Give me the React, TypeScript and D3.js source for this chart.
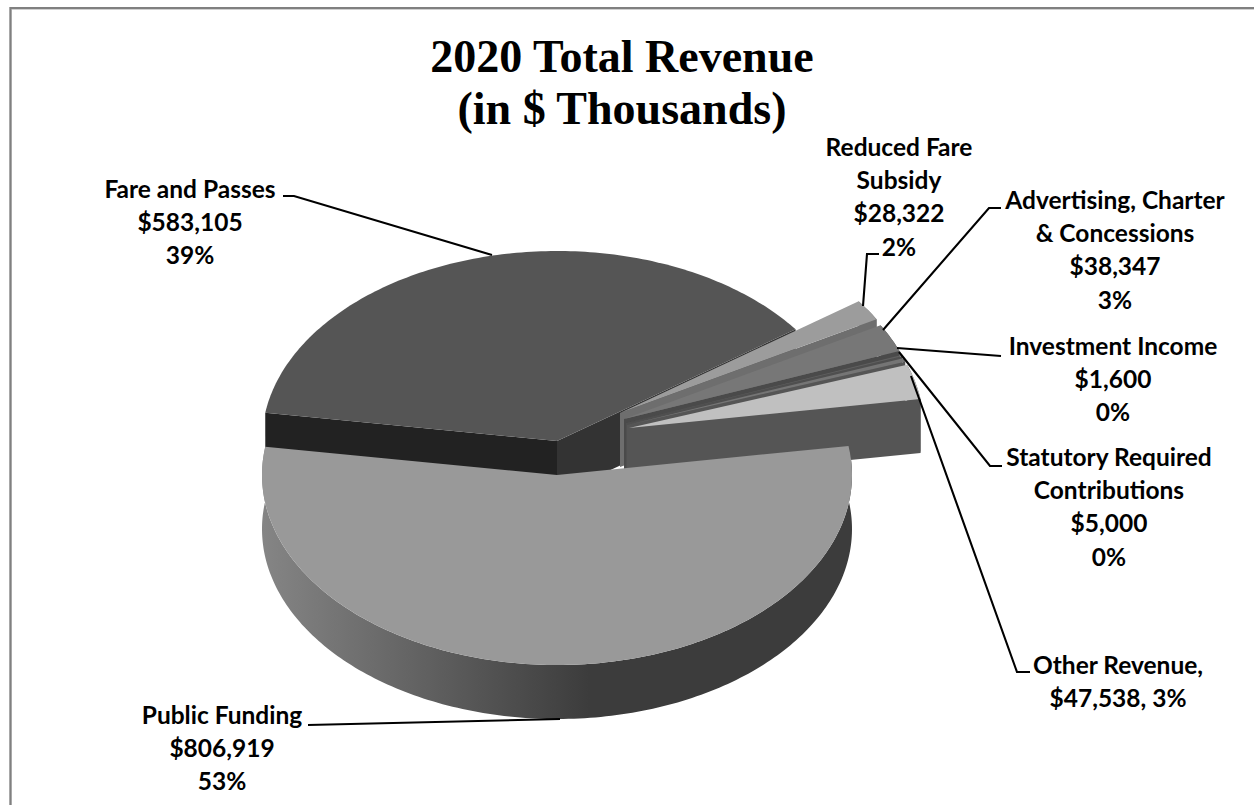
import React from "react";
import * as d3 from "d3";

const categories = ["Fare and Passes", "Reduced Fare Subsidy", "Advertising, Charter & Concessions", "Investment Income", "Statutory Required Contributions", "Other Revenue", "Public Funding"];
const revenue = [583105, 28322, 38347, 1600, 5000, 47538, 806919];
const labelLines = [
  ["Fare and Passes", "$583,105", "39%"],
  ["Reduced Fare", "Subsidy", "$28,322", "2%"],
  ["Advertising, Charter", "& Concessions", "$38,347", "3%"],
  ["Investment Income", "$1,600", "0%"],
  ["Statutory Required", "Contributions", "$5,000", "0%"],
  ["Other Revenue,", "$47,538, 3%"],
  ["Public Funding", "$806,919", "53%"],
];
const titleLines = ["2020 Total Revenue", "(in $ Thousands)"];

// layout / style
const W = 1254, H = 805;
const RX = 295, RY = 190, DEPTH = 54;
const START = (-84 * Math.PI) / 180;
const WARP = 0.05, WARP2 = 0.026;
const apexes: [number, number][] = [[557, 441], [620, 413], [624, 419], [626, 423], [627, 425], [629, 428], [557, 475]];
const topColors = ["#555555", "#9c9c9c", "#777777", "#5f5f5f", "#757575", "#c0c0c0", "#999999"];
const sideColors = ["#333333", "#6e6e6e", "#4a4a4a", "#4f4f4f", "#555555", "#555555", "url(#pubWall)"];
const labelPos: [number, number][] = [[190, 190], [899, 148], [1115, 201], [1113, 347], [1109, 458], [1118, 666], [222, 716]];
const leaders: [number, number][][] = [
  [[283, 196], [294, 196], [492, 255]],
  [[879, 254], [867, 254], [863, 306]],
  [[1001, 208], [989, 208], [883, 330]],
  [[1001, 356], [897, 348]],
  [[1002, 466], [990, 466], [899, 352]],
  [[1030, 672], [1017, 672], [911, 376]],
  [[308, 725], [560, 719]],
];
const LINE_H = 33.2;

const warp = (t: number) => t - WARP * Math.sin(t) + WARP2 * Math.sin(2 * t);
const project = (apex: [number, number], t: number, dy = 0): [number, number] => {
  const w = warp(t);
  return [apex[0] + RX * Math.sin(w), apex[1] - RY * Math.cos(w) + dy];
};

export default function App() {
  const arcs = d3.pie<number>().sort(null).startAngle(START).endAngle(START + 2 * Math.PI)(revenue);
  const line = d3.line();
  const closed = (pts: [number, number][]) => (line(pts) as string) + "Z";
  const sample = (a: number, b: number) => {
    const n = Math.max(2, Math.ceil(Math.abs(b - a) * 60));
    return d3.range(n + 1).map((i) => a + ((b - a) * i) / n);
  };

  const faces = arcs.map((d, i) => {
    const apex = apexes[i];
    const ts = sample(d.startAngle, d.endAngle);
    const topPts = ts.map((t) => project(apex, t));
    const top = closed([apex, ...topPts]);
    const low: [number, number] = [apex[0], apex[1] + DEPTH];
    const radial = (t: number) =>
      closed([apex, project(apex, t), project(apex, t, DEPTH), low]);
    const outer = closed([...topPts, ...ts.slice().reverse().map((t) => project(apex, t, DEPTH))]);
    return { top, endWall: radial(d.endAngle), startWall: radial(d.startAngle), outer };
  });

  return (
    <svg width={W} height={H} style={{ position: "absolute", left: 0, top: 0, display: "block" }}>
      <defs>
        <linearGradient id="pubWall" gradientUnits="userSpaceOnUse" x1={262} x2={590} y1={0} y2={0}>
          <stop offset="0" stopColor="#858585" />
          <stop offset="1" stopColor="#3c3c3c" />
        </linearGradient>
      </defs>
      <rect width={W} height={H} fill="#ffffff" />
      <path d="M10.5 805V8.5H1254" fill="none" stroke="#d0d0d0" strokeWidth={3} />
      <path d="M10.5 805V8H1254" fill="none" stroke="#808080" strokeWidth={2} />

      {faces.map((f, i) => (
        <g key={categories[i]}>
          {i === 0 && <path d={f.startWall} fill="#222222" />}
          {i === 0 ? (
            <path d={f.endWall} fill={sideColors[i]} />
          ) : i === categories.length - 1 ? (
            <path d={f.outer} fill={sideColors[i]} />
          ) : (
            <>
              <path d={f.outer} fill={sideColors[i]} />
              <path d={f.endWall} fill={sideColors[i]} />
            </>
          )}
          <path d={f.top} fill={topColors[i]} />
        </g>
      ))}

      {leaders.map((pts, i) => (
        <path key={i} d={line(pts) as string} fill="none" stroke="#000000" strokeWidth={2.1} />
      ))}

      <g fontFamily="'Liberation Serif', serif" fontWeight={700} fontSize={46} textAnchor="middle" fill="#000">
        {titleLines.map((t, i) => (
          <text key={t} x={622} y={72 + i * 52}>{t}</text>
        ))}
      </g>
      <g fontFamily="Lato, sans-serif" fontWeight={700} fontSize={24.5} textAnchor="middle" fill="#000">
        {labelLines.map((lines, i) =>
          lines.map((t, j) => (
            <text key={t + j} x={labelPos[i][0]} y={labelPos[i][1] + 8 + j * LINE_H}>{t}</text>
          ))
        )}
      </g>
    </svg>
  );
}
